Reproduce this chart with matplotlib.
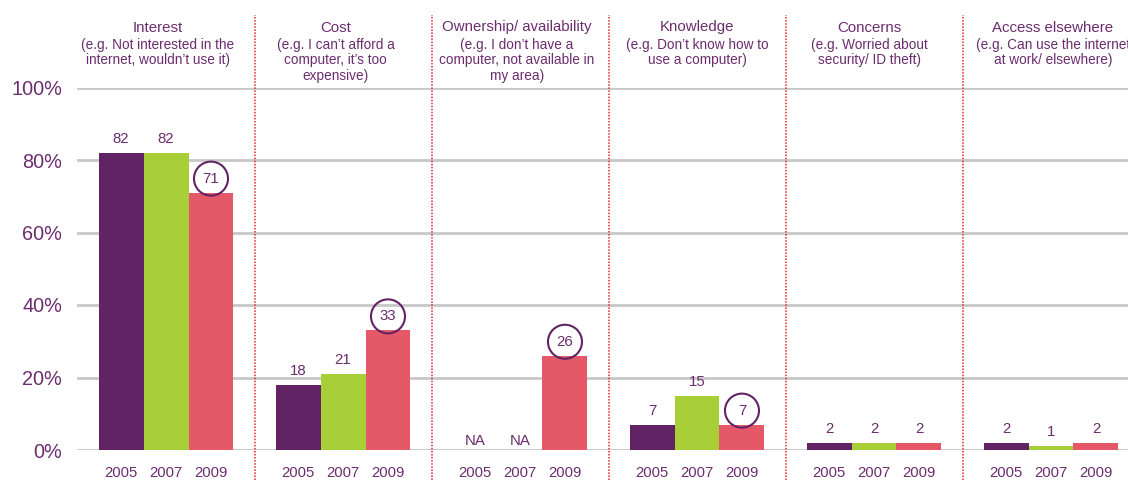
import numpy as np
import matplotlib
matplotlib.use('Agg')
import matplotlib.pyplot as plt
from matplotlib import transforms

plt.rcParams['font.family'] = ['Liberation Sans', 'DejaVu Sans']

# data
categories = ['Interest', 'Cost', 'Ownership/ availability', 'Knowledge',
              'Concerns', 'Access elsewhere']
subtitles = [
    ['(e.g. Not interested in the', 'internet, wouldn\u2019t use it)'],
    ['(e.g. I can\u2019t afford a', 'computer, it\u2019s too', 'expensive)'],
    ['(e.g. I don\u2019t have a', 'computer, not available in', 'my area)'],
    ['(e.g. Don\u2019t know how to', 'use a computer)'],
    ['(e.g. Worried about', 'security/ ID theft)'],
    ['(e.g. Can use the internet', 'at work/ elsewhere)'],
]
years = ['2005', '2007', '2009']
v2005 = [82, 18, None, 7, 2, 2]
v2007 = [82, 21, None, 15, 2, 1]
v2009 = [71, 33, 26, 7, 2, 2]
circled = [True, True, True, True, False, False]
yticks = [0, 20, 40, 60, 80, 100]

PURPLE = '#612363'
GREEN = '#A8CE38'
RED = '#E55868'
TEXT = '#6B2D6E'
GRID = '#C8C8C8'
DIVIDER = '#E3262B'

fig = plt.figure(figsize=(11.28, 4.8), dpi=100)
ax = fig.add_axes([77 / 1128, 30 / 480, 1 - 77 / 1128, 362.5 / 480])

x = np.arange(len(categories))
w = 0.254
series = [v2005, v2007, v2009]
colors = [PURPLE, GREEN, RED]

# horizontal grid lines behind the bars
for t in yticks:
    ax.axhline(t, color=GRID, lw=2, zorder=0)

above = transforms.offset_copy(ax.transData, fig, y=7, units='dots')
na_off = transforms.offset_copy(ax.transData, fig, y=2, units='dots')
circ = transforms.offset_copy(ax.transData, fig, y=14, units='dots')

for j, (vals, col) in enumerate(zip(series, colors)):
    xs = x + (j - 1) * w
    h = [0 if v is None else v for v in vals]
    ax.bar(xs, h, width=w, color=col, zorder=2)
    for i, v in enumerate(vals):
        if v is None:
            ax.text(xs[i], 0, 'NA', transform=na_off, ha='center', va='bottom',
                    fontsize=10.8, color=TEXT)
        elif j == 2 and circled[i]:
            # circled 2009 value
            ax.scatter([xs[i]], [v], s=600, marker='o', facecolors='none',
                       edgecolors=PURPLE, linewidths=1.5, transform=circ,
                       zorder=3, clip_on=False)
            ax.text(xs[i], v, str(v), transform=circ, ha='center', va='center',
                    fontsize=10.8, color=TEXT, zorder=4)
        else:
            ax.text(xs[i], v, str(v), transform=above, ha='center', va='bottom',
                    fontsize=10.8, color=TEXT)

# dotted red dividers between the groups
for d in x[:-1] + 0.5:
    ax.axvline(d, ymin=-30 / 362.5, ymax=435 / 362.5, color=DIVIDER,
               ls=(0, (1, 1)), lw=1.1, clip_on=False, zorder=1)

# group headers (text boxes sit a few pixels off the group centre)
hdr_shift = [-8, -7.5, -3, 0, -5, 2]
for i, (cat, sub) in enumerate(zip(categories, subtitles)):
    tr = transforms.offset_copy(
        transforms.blended_transform_factory(ax.transData, fig.transFigure),
        fig, x=hdr_shift[i], units='dots')
    ax.text(x[i], 1 - 27.5 / 480, cat, transform=tr, ha='center', va='center',
            fontsize=10.8, color=TEXT)
    for k, line in enumerate(sub):
        ax.text(x[i], 1 - (44.5 + 15.7 * k) / 480, line, transform=tr,
                ha='center', va='center', fontsize=9.8, color=TEXT)

ax.set_xlim(-0.503, 5.435)
ax.set_ylim(0, 100)
ax.set_yticks(yticks)
ax.set_yticklabels([f'{t}%' for t in yticks], fontsize=14.3, color=TEXT)
xt = np.concatenate([x - w, x, x + w])
ax.set_xticks(xt)
ax.set_xticklabels([years[0]] * len(x) + [years[1]] * len(x) + [years[2]] * len(x),
                   fontsize=10.7, color=TEXT)
ax.tick_params(axis='both', length=0)
ax.tick_params(axis='y', pad=10.8)
ax.tick_params(axis='x', pad=11.5)
for s in ax.spines.values():
    s.set_visible(False)

plt.savefig('out.png', dpi=100, facecolor='white')
